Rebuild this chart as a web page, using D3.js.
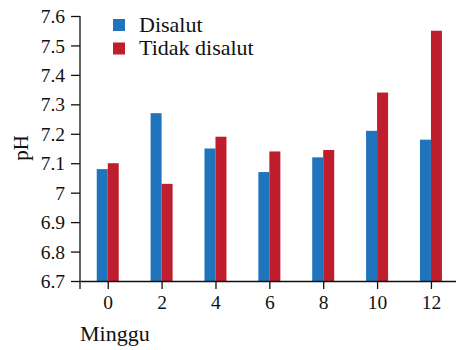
<!DOCTYPE html>
<html>
<head>
<meta charset="utf-8">
<script src="https://cdn.jsdelivr.net/npm/d3@7"></script>
<style>
  body { margin: 0; background: #fff; }
  svg text { font-family: "Liberation Serif", "DejaVu Serif", serif; fill: #111; }
</style>
</head>
<body>
<svg></svg>
<script>
const width = 456, height = 350;

// data
const weeks = [0, 2, 4, 6, 8, 10, 12];
const disalut = [7.08, 7.27, 7.15, 7.07, 7.12, 7.21, 7.18];
const tidakDisalut = [7.10, 7.03, 7.19, 7.14, 7.145, 7.34, 7.55];
const yTicks = [6.7, 6.8, 6.9, 7, 7.1, 7.2, 7.3, 7.4, 7.5, 7.6];
const seriesNames = ["Disalut", "Tidak disalut"];
const colors = ["#1f74bc", "#be1e2e"];

const svg = d3.select("svg").attr("width", width).attr("height", height);

const x = d3.scaleLinear().domain([-1.03, 12.93]).range([80, 456]);
const y = d3.scaleLinear().domain([6.7, 7.6]).range([281, 16]);
const barW = 11;

// bars
const series = [disalut, tidakDisalut];
series.forEach((vals, si) => {
    svg.append("g").selectAll("rect")
        .data(vals)
        .enter().append("rect")
        .attr("x", (d, i) => si === 0 ? x(weeks[i]) - barW : x(weeks[i]))
        .attr("y", d => y(d))
        .attr("width", barW)
        .attr("height", d => y(6.7) - y(d))
        .attr("fill", colors[si]);
});

// y axis
const yAxis = svg.append("g")
    .attr("transform", "translate(80,0)")
    .call(d3.axisLeft(y).tickValues(yTicks).tickSize(9).tickSizeOuter(0)
        .tickFormat(d => d3.format("")(+d.toFixed(1))));
yAxis.select(".domain").attr("d", "M0,16V289").attr("stroke", "#111").attr("stroke-width", 1.3);
yAxis.selectAll(".tick line").attr("stroke", "#111").attr("stroke-width", 1.3);
yAxis.selectAll(".tick text").attr("x", -15).attr("font-size", 19.5).attr("dy", "0.34em");

// x axis
const xAxis = svg.append("g")
    .attr("transform", "translate(0,281)")
    .call(d3.axisBottom(x).tickValues(weeks).tickSize(8).tickSizeOuter(0));
xAxis.select(".domain").attr("stroke", "#111").attr("stroke-width", 1.3);
xAxis.selectAll(".tick line").attr("stroke", "#111").attr("stroke-width", 1.3);
xAxis.selectAll(".tick text").attr("y", 14).attr("font-size", 19.5).attr("dy", "0.71em");

// axis titles
svg.append("text")
    .attr("transform", "translate(28,148) rotate(-90)")
    .attr("text-anchor", "middle")
    .attr("font-size", 21)
    .text("pH");

svg.append("text")
    .attr("x", 80).attr("y", 341)
    .attr("font-size", 22)
    .text("Minggu");

// legend
const legend = svg.append("g").selectAll("g")
    .data(seriesNames)
    .enter().append("g")
    .attr("transform", (d, i) => `translate(113,${19 + i * 23.5})`);
legend.append("rect")
    .attr("width", 12).attr("height", 12)
    .attr("fill", (d, i) => colors[i]);
legend.append("text")
    .attr("x", 26).attr("y", 12.5)
    .attr("font-size", 22)
    .text(d => d);
</script>
</body>
</html>
